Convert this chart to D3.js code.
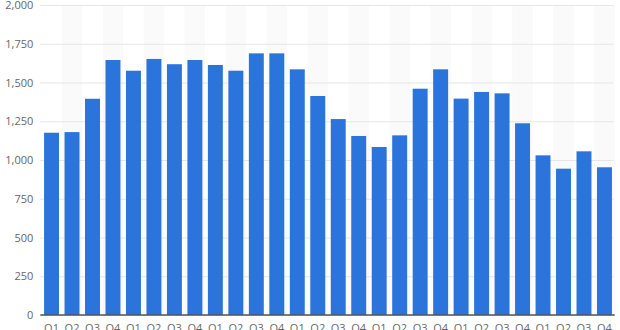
<!DOCTYPE html>
<html>
<head>
<meta charset="utf-8">
<script src="https://cdn.jsdelivr.net/npm/d3@7"></script>
<style>
  html, body { margin: 0; padding: 0; background: #fff; }
  svg { display: block; font-family: "Open Sans", sans-serif; }
</style>
</head>
<body>
<svg id="chart" width="620" height="330"></svg>
<script>
// quarters, 7 years of data
const quarters = ['Q1', 'Q2', 'Q3', 'Q4']
const years = 7
const values = [
  1176, 1180, 1395, 1645,
  1576, 1652, 1618, 1645,
  1613, 1576, 1688, 1688,
  1585, 1413, 1264, 1155,
  1084, 1159, 1460, 1585,
  1396, 1439, 1430, 1237,
  1030, 944, 1056, 953
]
const yTicks = [0, 250, 500, 750, 1000, 1250, 1500, 1750, 2000]

const labels = []
for (let yr = 0; yr < years; yr++) quarters.forEach(q => labels.push(q))
const data = values.map((v, i) => ({ i: i, q: labels[i], v: v }))

const svg = d3.select('#chart')
const plotLeft = 41.3, plotRight = 614.7, plotTop = 5, plotBottom = 315

const x = d3.scaleBand()
  .domain(data.map(d => d.i))
  .range([plotLeft, plotRight])
  .paddingInner(0.27)
  .paddingOuter(0.135)

const y = d3.scaleLinear().domain([0, 2000]).range([plotBottom, plotTop])

// faint stripes behind every other column
svg.append('g').selectAll('rect')
  .data(data.filter(d => d.i % 2 === 1))
  .enter().append('rect')
  .attr('x', d => x(d.i) - x.step() * x.paddingInner() / 2)
  .attr('y', plotTop)
  .attr('width', x.step())
  .attr('height', plotBottom - plotTop)
  .attr('fill', '#fafafa')

// gridlines + y labels
const yAxis = d3.axisLeft(y).tickValues(yTicks).tickSize(-(plotRight - plotLeft)).tickFormat(d3.format(','))
const gy = svg.append('g')
  .attr('transform', `translate(${plotLeft - 1},0)`)
  .call(yAxis)
gy.select('.domain').remove()
gy.selectAll('.tick line').attr('stroke', '#e6e6e6').attr('stroke-width', 1)
gy.selectAll('.tick text')
  .attr('x', -7)
  .attr('fill', '#666')
  .style('font-size', '11px')
  .style('font-family', '"Open Sans", sans-serif')

// bars
svg.append('g').selectAll('rect')
  .data(data)
  .enter().append('rect')
  .attr('x', d => x(d.i))
  .attr('y', d => y(d.v))
  .attr('width', x.bandwidth())
  .attr('height', d => y(0) - y(d.v))
  .attr('fill', '#2a74db')

// x axis
const gx = svg.append('g')
  .attr('transform', `translate(0,${plotBottom})`)
  .call(d3.axisBottom(x).tickSize(0).tickFormat(i => labels[i]))
gx.select('.domain')
  .attr('d', `M${plotLeft - 1},0H${plotRight}`)
  .attr('stroke', '#555')
  .attr('stroke-width', 1.5)
gx.selectAll('.tick text')
  .attr('y', 9)
  .attr('dy', '0.71em')
  .attr('fill', '#666')
  .style('font-size', '11px')
  .style('font-family', '"Open Sans", sans-serif')
</script>
</body>
</html>
